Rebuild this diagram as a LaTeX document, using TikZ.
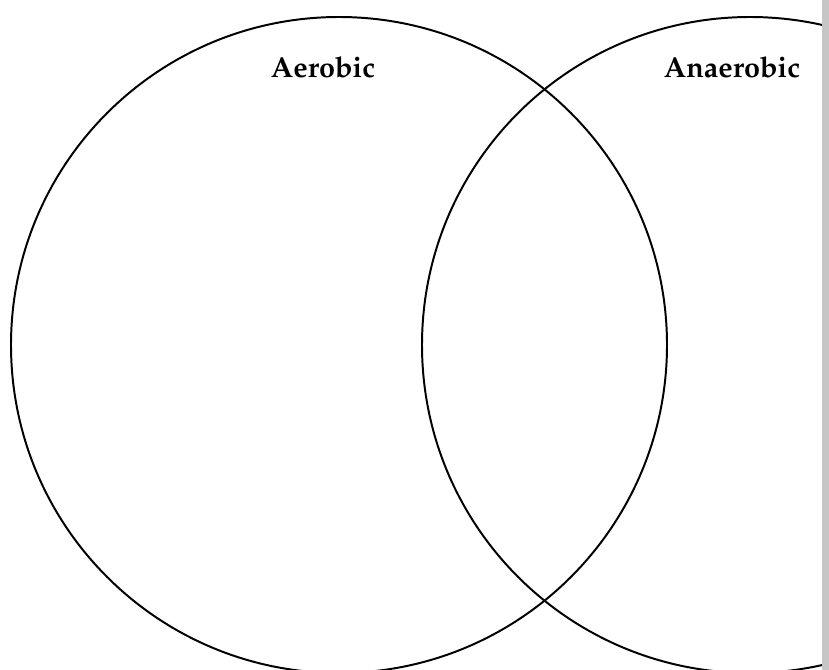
\documentclass[tikz,border=0pt]{standalone}
\usepackage[T1]{fontenc}
\renewcommand{\rmdefault}{ppl}
\usetikzlibrary{positioning}

\begin{document}
\begin{tikzpicture}[x=0.025cm,y=-0.025cm,
 set/.style={draw,circle,line width=1.4pt,minimum size=656*0.025cm,inner sep=0pt},
 setname/.style={font=\fontsize{20.5}{24}\selectfont\bfseries,anchor=base,inner sep=0pt}]
\useasboundingbox (0,0) rectangle (829,670);
\begin{scope}
\clip (0,0) rectangle (822,670);
\node[set] (aer) at (339,345) {};
\node[set] (ana) at (750,345) {};
\end{scope}
\fill[gray!45] (822,0) rectangle (829,670);
\node[setname] (aerlab) at (323,78) {Aerobic};
\node[setname] (analab) at (732,78) {Anaerobic};
\end{tikzpicture}
\end{document}
